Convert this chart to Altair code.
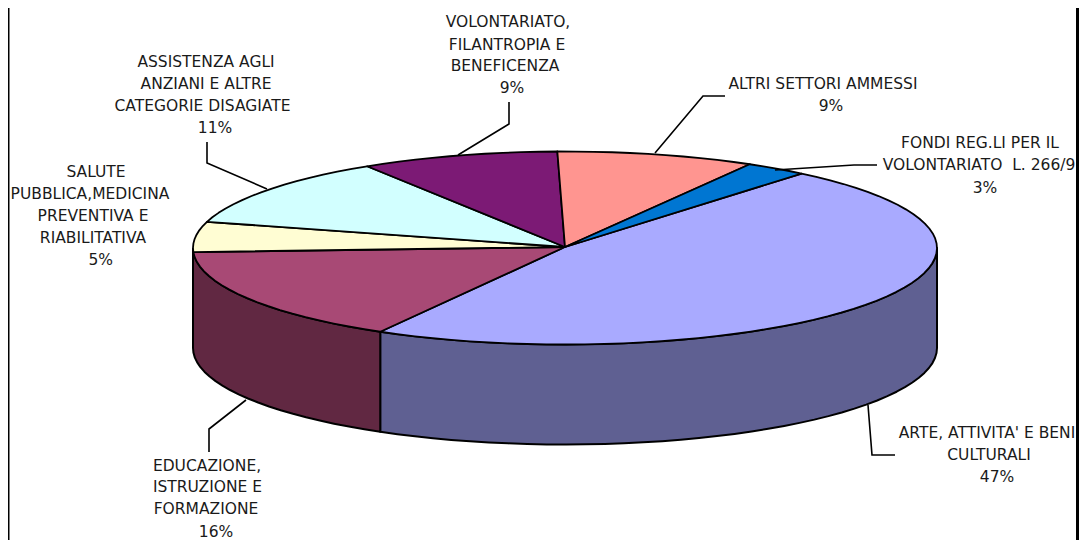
import math
import altair as alt
import pandas as pd

# Slices, clockwise from the art slice (shares)
categories = ["Arte", "Educazione", "Salute", "Assistenza", "Volontariato", "Altri", "Fondi"]
shares = [47.3, 16.05, 5.05, 11.7, 8.6, 8.6, 2.7]
top_colors = ["#a9aaff", "#a84975", "#fffdd3", "#d2ffff", "#7c1a75", "#ff9590", "#0076d2"]
side_colors = {"Arte": "#5f6092", "Educazione": "#612842"}

label_lines = [
    "ASSISTENZA AGLI", "ANZIANI E ALTRE", "CATEGORIE DISAGIATE", "11%",
    "SALUTE", "PUBBLICA,MEDICINA", "PREVENTIVA E", "RIABILITATIVA", "5%",
    "VOLONTARIATO,", "FILANTROPIA E", "BENEFICENZA", "9%",
    "ALTRI SETTORI AMMESSI", "9%",
    "FONDI REG.LI PER IL", "VOLONTARIATO\u00a0\u00a0L. 266/9", "3%",
    "EDUCAZIONE,", "ISTRUZIONE E", "FORMAZIONE", "16%",
    "ARTE, ATTIVITA' E BENI", "CULTURALI", "47%",
]
label_x = [206, 206, 202.5, 215, 96, 90, 93, 93, 100.7, 508, 507, 505, 512, 823, 831,
           980, 979, 985, 207, 207.5, 206, 216, 987, 989, 997]
label_y = [62, 84, 106, 128, 172, 194, 216, 238, 260, 22, 44.5, 66, 88, 84, 106,
           143, 165, 188, 466, 487, 509, 532, 433, 455, 477]

leaders = [
    [(207, 142), (207, 163), (267, 189)],
    [(509, 102), (509, 124), (458, 155)],
    [(725, 96), (703, 96), (655, 153)],
    [(877, 165), (854, 165), (775, 170)],
    [(209, 452), (209, 429), (246, 400)],
    [(895, 455), (872, 455), (868, 405)],
]
frame_left = [8.0]
frame_right = [1076.0]
frame_end = [1079.0]
frame_start_left = [8.0]
frame_end_left = [9.5]

CX, CY, RX, RY, DEPTH = 565, 248, 372, 96.5, 100
START = 410.5  # degrees, art/fondi boundary going clockwise


def rim(t, drop=0):
    a = math.radians(t)
    return CX + RX * math.cos(a), CY - RY * math.sin(a) + drop


def arc(t0, t1, drop=0):
    n = max(2, int(abs(t1 - t0) / 3) + 1)
    return [rim(t0 + (t1 - t0) * i / n, drop) for i in range(n + 1)]


X = alt.X("x:Q", axis=None, scale=alt.Scale(domain=[8, 1079], nice=False, zero=False))
Y = alt.Y("y:Q", axis=None, scale=alt.Scale(domain=[540, 8], nice=False, zero=False))


def path(points, **mark):
    df = pd.DataFrame([{"x": x, "y": y, "i": i} for i, (x, y) in enumerate(points)])
    return alt.Chart(df).mark_line(interpolate="linear", **mark).encode(
        x=X, y=Y, order=alt.Order("i:Q"))


layers = []
tops = []
t = START
for name, share, color in zip(categories, shares, top_colors):
    t_next = t - share * 3.6
    # side wall (only the front half of the disc can be seen)
    if name in side_colors:
        if name == "Educazione":
            lo, hi = 180, t % 360
        else:
            lo, hi = t_next % 360, 360
        upper = arc(lo, hi)
        lower = arc(hi, lo, DEPTH)
        pts = upper + lower + [upper[0]]
        layers.append(path(pts, fill=side_colors[name], stroke="black", strokeWidth=2, strokeJoin="round"))
    pts = [(CX, CY - 1)] + arc(t, t_next) + [(CX, CY - 1)]
    tops.append(path(pts, fill=color, stroke="black", strokeWidth=1.8, strokeJoin="round"))
    t = t_next
layers += tops

for leader in leaders:
    layers.append(path(leader, stroke="black", strokeWidth=1.6))

text_df = pd.DataFrame({"x": label_x, "y": label_y, "t": label_lines})
layers.append(
    alt.Chart(text_df).mark_text(font="DejaVu Sans", fontSize=15.5, color="#1a1a1a", align="center", baseline="middle")
    .encode(x=X, y=Y, text="t:N")
)

# Frame bands on the left and right edges
frame_df = pd.DataFrame({"x": frame_start_left + frame_right, "x2": frame_end_left + frame_end})
layers.append(
    alt.Chart(frame_df).mark_rect(color="black").encode(x=X, x2="x2:Q", y=alt.value(0), y2=alt.value(532))
)

chart = alt.layer(*layers).properties(
    width=1071, height=532, padding=0,
    autosize=alt.AutoSizeParams(type="none"), background="white"
).configure_view(stroke=None)

chart.save("out.html", embed_options={"renderer": "svg", "actions": False})
